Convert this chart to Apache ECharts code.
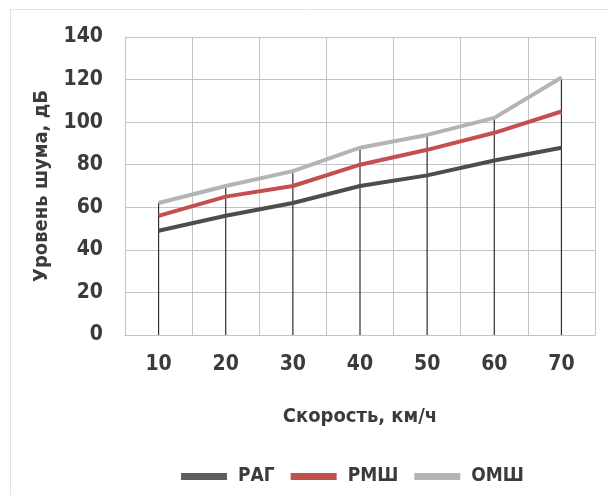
<!DOCTYPE html>
<html>
<head>
<meta charset="utf-8">
<script src="https://cdn.jsdelivr.net/npm/echarts@6/dist/echarts.min.js"></script>
<style>
html,body{margin:0;padding:0;background:#fff;}
#chart{width:608px;height:495px;}
</style>
</head>
<body>
<div id="chart"></div>
<script>
const categories = ['10', '20', '30', '40', '50', '60', '70'];
const rag = [49, 56, 62, 70, 75, 82, 88];
const rmsh = [56, 65, 70, 80, 87, 95, 105];
const omsh = [62, 70, 77, 88, 94, 102, 121];
const seriesNames = ['РАГ', 'РМШ', 'ОМШ'];
const yTicks = [0, 20, 40, 60, 80, 100, 120, 140];

const FONT = '"Liberation Sans Narrow", "DejaVu Sans Condensed", "Liberation Sans", sans-serif';
const TXT = '#3b3b3b';

const chart = echarts.init(document.getElementById('chart'), null, {renderer: 'canvas'});
const option = {
  backgroundColor: '#ffffff',
  animation: false,
  graphic: [{
    type: 'rect', left: 8, top: 7, silent: true,
    shape: {width: 620, height: 520},
    style: {fill: 'none', stroke: '#e3e3e3', lineWidth: 1}
  }],
  grid: {left: 125, right: 13, top: 37, bottom: 160, containLabel: false},
  legend: {
    data: seriesNames,
    top: 462, left: 176,
    itemWidth: 46, itemHeight: 7, itemGap: 16,
    icon: 'rect',
    textStyle: {fontFamily: FONT, fontWeight: 'bold', fontSize: 19, color: TXT, padding: [0, 0, 0, 6]}
  },
  xAxis: {
    type: 'category',
    data: categories,
    boundaryGap: true,
    name: 'Скорость, км/ч',
    nameLocation: 'middle',
    nameGap: 72,
    nameTextStyle: {fontFamily: FONT, fontWeight: 'bold', fontSize: 20, color: TXT},
    axisLine: {show: true, lineStyle: {color: '#c4c4c4', width: 1}},
    axisTick: {show: false},
    axisLabel: {fontFamily: FONT, fontWeight: 'bold', fontSize: 21, color: TXT, margin: 19},
    splitLine: {show: true, lineStyle: {color: '#c4c4c4', width: 1}}
  },
  yAxis: {
    type: 'value',
    min: yTicks[0], max: yTicks[yTicks.length - 1], interval: 20,
    name: 'Уровень шума, дБ',
    nameLocation: 'middle',
    nameGap: 73,
    nameRotate: 90,
    nameTextStyle: {fontFamily: FONT, fontWeight: 'bold', fontSize: 20, color: TXT},
    axisLine: {show: true, lineStyle: {color: '#c4c4c4', width: 1}},
    axisTick: {show: false},
    axisLabel: {fontFamily: FONT, fontWeight: 'bold', fontSize: 21, color: TXT, margin: 22},
    splitLine: {show: true, lineStyle: {color: '#c4c4c4', width: 1}}
  },
  series: [
    {
      name: 'drop', type: 'bar', data: omsh, barWidth: 1.2, silent: true, z: 1,
      itemStyle: {color: '#2f2f2f'}
    },
    {
      name: seriesNames[0], type: 'line', data: rag, showSymbol: false, symbol: 'none', z: 3,
      lineStyle: {color: '#4d4d4d', width: 4}, itemStyle: {color: '#5e5e5e'}
    },
    {
      name: seriesNames[1], type: 'line', data: rmsh, showSymbol: false, symbol: 'none', z: 3,
      lineStyle: {color: '#c44f4f', width: 4}, itemStyle: {color: '#c0504d'}
    },
    {
      name: seriesNames[2], type: 'line', data: omsh, showSymbol: false, symbol: 'none', z: 2,
      lineStyle: {color: '#b3b5b4', width: 4}, itemStyle: {color: '#b3b5b4'}
    }
  ]
};
chart.setOption(option);
</script>
</body>
</html>
